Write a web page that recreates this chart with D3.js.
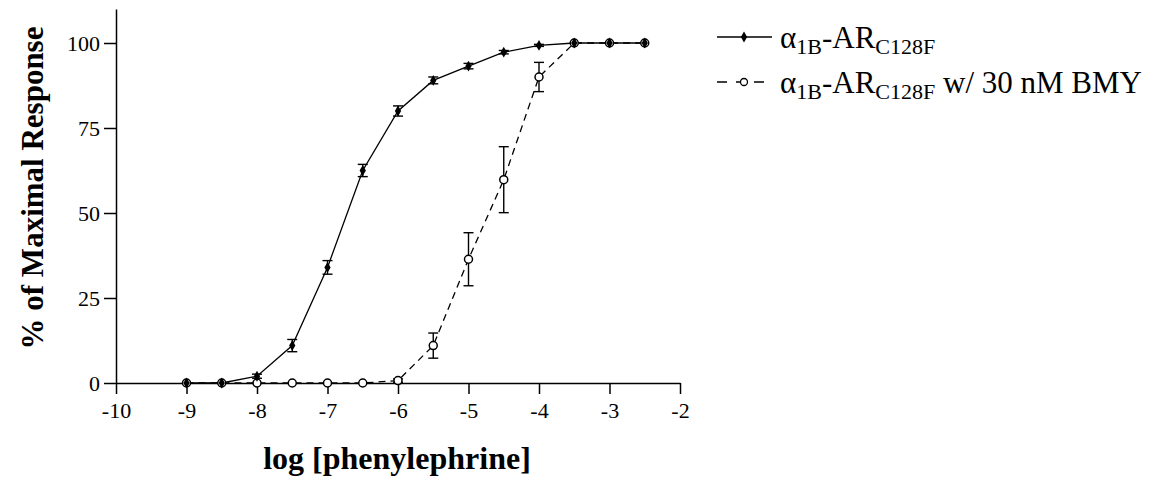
<!DOCTYPE html>
<html>
<head>
<meta charset="utf-8">
<script src="https://cdn.jsdelivr.net/npm/d3@7"></script>
<style>
  body { margin: 0; background: #fff; }
  svg { display: block; }
  .axis path, .axis line { stroke: #000; stroke-width: 1.5px; }
</style>
</head>
<body>
<div id="chart"></div>
<script>
const logConc = [-9, -8.5, -8, -7.5, -7, -6.5, -6, -5.5, -5, -4.5, -4, -3.5, -3, -2.5];
const wtMean = [0, 0, 2, 11, 34, 62.5, 80, 89, 93.2, 97.3, 99.3, 100, 100, 100];
const wtSem = [0, 0, 0.6, 1.8, 2, 1.8, 1.5, 1, 0.8, 0.5, 0.3, 0, 0, 0];
const bmyMean = [0, 0, 0, 0, 0, 0, 0.7, 11, 36.4, 59.8, 90, 100, 100, 100];
const bmySem = [0, 0, 0, 0, 0, 0, 0.5, 3.7, 7.8, 9.7, 4.3, 0, 0, 0];
const xTicks = [-10, -9, -8, -7, -6, -5, -4, -3, -2];
const yTicks = [0, 25, 50, 75, 100];
const legendMain = ["\u03b1", "-AR"];
const legendSub = ["1B", "C128F"];
const legendExtra = ["", " w/ 30 nM BMY"];

const width = 1158;
const height = 478;
const serif = '"Liberation Serif", "Times New Roman", serif';

const svg = d3.select('#chart')
  .append('svg')
  .attr('width', width)
  .attr('height', height);

const x = d3.scaleLinear()
  .domain([-10, -2])
  .range([116, 680]);

const y = d3.scaleLinear()
  .domain([0, 110])
  .range([383, 9]);

// axes
svg.append('g')
  .attr('class', 'axis')
  .attr('transform', `translate(0,${y(0)})`)
  .call(d3.axisBottom(x).tickValues(xTicks).tickFormat(d => String(d)).tickSize(11).tickSizeOuter(0).tickPadding(8))
  .attr('font-family', serif)
  .attr('font-size', 22);

svg.append('g')
  .attr('class', 'axis')
  .attr('transform', `translate(${x(-10)},0)`)
  .call(d3.axisLeft(y).tickValues(yTicks).tickSize(12).tickSizeOuter(0).tickPadding(4))
  .attr('font-family', serif)
  .attr('font-size', 22);

svg.selectAll('.axis text').attr('fill', '#000');

const wt = logConc.map((c, i) => ({ c, m: wtMean[i], e: wtSem[i] }));
const bmy = logConc.map((c, i) => ({ c, m: bmyMean[i], e: bmySem[i] }));

const line = d3.line()
  .x(d => x(d.c))
  .y(d => y(d.m));

svg.append('path')
  .datum(bmy)
  .attr('d', line)
  .attr('fill', 'none')
  .attr('stroke', '#000')
  .attr('stroke-width', 1.3)
  .attr('stroke-dasharray', '7,5');

svg.append('path')
  .datum(wt)
  .attr('d', line)
  .attr('fill', 'none')
  .attr('stroke', '#000')
  .attr('stroke-width', 1.3);

// error bars
function errorBars(data) {
  const g = svg.append('g')
    .attr('stroke', '#000')
    .attr('stroke-width', 1.4)
    .selectAll('g')
    .data(data.filter(d => d.e > 0))
    .join('g');
  g.append('line')
    .attr('x1', d => x(d.c)).attr('x2', d => x(d.c))
    .attr('y1', d => y(d.m - d.e)).attr('y2', d => y(d.m + d.e));
  g.append('line')
    .attr('x1', d => x(d.c) - 5).attr('x2', d => x(d.c) + 5)
    .attr('y1', d => y(d.m - d.e)).attr('y2', d => y(d.m - d.e));
  g.append('line')
    .attr('x1', d => x(d.c) - 5).attr('x2', d => x(d.c) + 5)
    .attr('y1', d => y(d.m + d.e)).attr('y2', d => y(d.m + d.e));
}
errorBars(bmy);
errorBars(wt);

svg.append('g')
  .selectAll('circle')
  .data(bmy)
  .join('circle')
  .attr('cx', d => x(d.c))
  .attr('cy', d => y(d.m))
  .attr('r', 4)
  .attr('fill', '#fff')
  .attr('stroke', '#000')
  .attr('stroke-width', 1.5);

const diamond = d3.symbol().type(d3.symbolDiamond).size(34);
svg.append('g')
  .selectAll('path')
  .data(wt)
  .join('path')
  .attr('transform', d => `translate(${x(d.c)},${y(d.m)})`)
  .attr('d', diamond)
  .attr('fill', '#000');

// legend
const legend = svg.append('g');
[0, 1].forEach(i => {
  const ly = 37 + i * 45;
  if (i === 0) {
    legend.append('line')
      .attr('x1', 717).attr('x2', 772).attr('y1', ly).attr('y2', ly)
      .attr('stroke', '#000').attr('stroke-width', 1.3);
    legend.append('path')
      .attr('transform', `translate(744,${ly})`)
      .attr('d', diamond)
      .attr('fill', '#000');
  } else {
    legend.append('line')
      .attr('x1', 717).attr('x2', 772).attr('y1', ly).attr('y2', ly)
      .attr('stroke', '#000').attr('stroke-width', 1.3)
      .attr('stroke-dasharray', '10,9,9,9,10');
    legend.append('circle')
      .attr('cx', 744).attr('cy', ly).attr('r', 3.5)
      .attr('fill', '#fff').attr('stroke', '#000').attr('stroke-width', 1.3);
  }
  const t = legend.append('text')
    .attr('x', 780)
    .attr('y', ly + 11)
    .attr('font-family', serif)
    .attr('font-size', 31)
    .attr('fill', '#000');
  t.append('tspan').text(legendMain[0]);
  t.append('tspan').attr('font-size', 22).attr('dy', 6).text(legendSub[0]);
  t.append('tspan').attr('dy', -6).text(legendMain[1]);
  t.append('tspan').attr('font-size', 22).attr('dy', 6).text(legendSub[1]);
  if (legendExtra[i]) t.append('tspan').attr('dy', -6).text(legendExtra[i]);
});

// axis titles
svg.append('text')
  .attr('x', 397)
  .attr('y', 469)
  .attr('text-anchor', 'middle')
  .attr('font-family', serif)
  .attr('font-weight', 'bold')
  .attr('font-size', 32)
  .text('log [phenylephrine]');

svg.append('text')
  .attr('transform', 'translate(43,188) rotate(-90)')
  .attr('text-anchor', 'middle')
  .attr('font-family', serif)
  .attr('font-weight', 'bold')
  .attr('font-size', 31)
  .text('% of Maximal Response');
</script>
</body>
</html>
